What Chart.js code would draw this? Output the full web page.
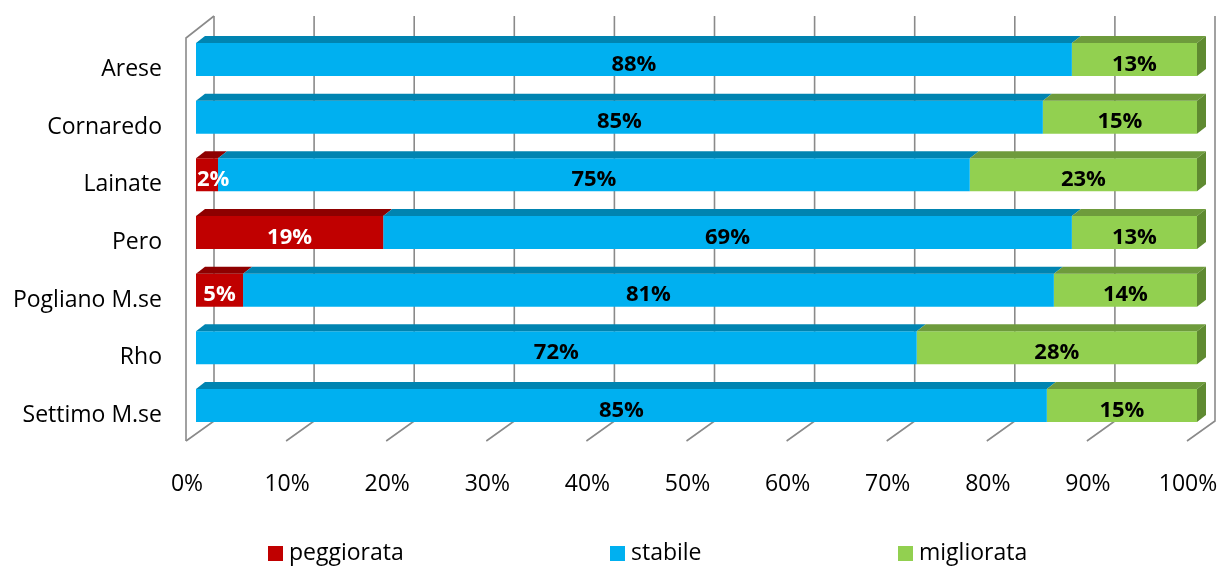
<!DOCTYPE html>
<html><head><meta charset="utf-8">
<script src="https://cdn.jsdelivr.net/npm/chart.js@4.4.0/dist/chart.umd.min.js"></script>
<style>html,body{margin:0;padding:0;background:#fff;} canvas{display:block}</style>
</head><body>
<canvas id="c" width="1227" height="567"></canvas>
<script>
// ---- data ----
const categories = ['Arese', 'Cornaredo', 'Lainate', 'Pero', 'Pogliano M.se', 'Rho', 'Settimo M.se'];
const seriesNames = ['peggiorata', 'stabile', 'migliorata'];
const peggiorata = [0, 0, 2.2, 18.7, 4.7, 0, 0];
const stabile = [87.5, 84.6, 75.1, 68.8, 81.0, 72.0, 85.0];
const migliorata = [12.5, 15.4, 22.7, 12.5, 14.3, 28.0, 15.0];
const xTicks = [0, 10, 20, 30, 40, 50, 60, 70, 80, 90, 100];

// ---- styles ----
const FRONT = ['#C00000', '#00B0F0', '#92D050'];
const TOP = ['#8E0000', '#0084B1', '#6E9B3C'];
const SIDE = ['#7A0000', '#00729A', '#5F8A31'];
const LABEL_COLOR = ['#FFFFFF', '#000000', '#000000'];
const FONT = 'Open Sans';
const DEPTH_X = 9, DEPTH_Y = 7;

const threeD = {
  id: 'threeD',
  beforeDatasetsDraw(chart) {
    const ctx = chart.ctx;
    const {top, bottom} = chart.chartArea;
    const xs = chart.scales.x;
    const BX = 18, FX = -10;
    const backTop = top - 14.7, backBot = bottom - 13.3, frontBot = bottom + 6.7, frontTop = top + 7.3;
    ctx.save();
    ctx.strokeStyle = '#8A8A8A';
    ctx.lineWidth = 1.6;
    xTicks.forEach(v => {
      const px = xs.getPixelForValue(v);
      ctx.beginPath();
      ctx.moveTo(px + BX, backTop);
      ctx.lineTo(px + BX, backBot);
      ctx.lineTo(px + FX, frontBot);
      ctx.stroke();
    });
    const x0 = xs.getPixelForValue(0);
    ctx.beginPath();
    ctx.moveTo(x0 + BX, backTop);
    ctx.lineTo(x0 + FX, frontTop);
    ctx.lineTo(x0 + FX, frontBot);
    ctx.stroke();
    ctx.restore();
  },
  afterDatasetsDraw(chart) {
    const ctx = chart.ctx;
    ctx.save();
    const n = chart.data.datasets.length;
    chart.data.datasets.forEach((ds, di) => {
      const meta = chart.getDatasetMeta(di);
      meta.data.forEach((el, i) => {
        if (!ds.data[i]) return;
        const x1 = Math.min(el.base, el.x), x2 = Math.max(el.base, el.x);
        const t = el.y - el.height / 2, b = el.y + el.height / 2;
        ctx.fillStyle = TOP[di];
        ctx.beginPath();
        ctx.moveTo(x1, t);
        ctx.lineTo(x1 + DEPTH_X, t - DEPTH_Y);
        ctx.lineTo(x2 + DEPTH_X, t - DEPTH_Y);
        ctx.lineTo(x2, t);
        ctx.closePath();
        ctx.fill();
        let last = true;
        for (let k = di + 1; k < n; k++) if (chart.data.datasets[k].data[i]) last = false;
        if (last) {
          ctx.fillStyle = SIDE[di];
          ctx.beginPath();
          ctx.moveTo(x2, t);
          ctx.lineTo(x2 + DEPTH_X, t - DEPTH_Y);
          ctx.lineTo(x2 + DEPTH_X, b - DEPTH_Y);
          ctx.lineTo(x2, b);
          ctx.closePath();
          ctx.fill();
        }
      });
    });
    ctx.font = 'bold 22px "' + FONT + '"';
    ctx.textAlign = 'center';
    ctx.textBaseline = 'middle';
    chart.data.datasets.forEach((ds, di) => {
      const meta = chart.getDatasetMeta(di);
      meta.data.forEach((el, i) => {
        if (!ds.data[i]) return;
        const txt = Math.round(ds.data[i]) + '%';
        const w = ctx.measureText(txt).width;
        const x = Math.max((el.x + el.base) / 2, Math.min(el.x, el.base) + w / 2 + 1);
        ctx.fillStyle = LABEL_COLOR[di];
        ctx.fillText(txt, x, el.y + 5);
      });
    });
    ctx.restore();
  },
  afterDraw(chart) {
    const ctx = chart.ctx;
    const LEG_X = [268, 610, 898];
    const cy = 553;
    ctx.save();
    ctx.font = '23px "' + FONT + '"';
    ctx.textAlign = 'left';
    ctx.textBaseline = 'middle';
    chart.data.datasets.forEach((ds, di) => {
      const x = LEG_X[di];
      ctx.fillStyle = ds.backgroundColor;
      ctx.fillRect(x, cy - 7, 15, 15);
      ctx.fillStyle = '#000';
      ctx.fillText(ds.label, x + 21, cy);
    });
    ctx.restore();
  }
};

new Chart(document.getElementById('c'), {
  type: 'bar',
  data: {
    labels: categories,
    datasets: [
      {label: seriesNames[0], data: peggiorata, backgroundColor: FRONT[0]},
      {label: seriesNames[1], data: stabile, backgroundColor: FRONT[1]},
      {label: seriesNames[2], data: migliorata, backgroundColor: FRONT[2]}
    ]
  },
  options: {
    responsive: false,
    animation: false,
    indexAxis: 'y',
    devicePixelRatio: 1,
    layout: {padding: {top: 30.7, right: 30, bottom: 52.7, left: 0}},
    datasets: {bar: {categoryPercentage: 1, barPercentage: 0.572, borderWidth: 0}},
    plugins: {legend: {display: false}, tooltip: {enabled: false}},
    scales: {
      x: {
        stacked: true, min: 0, max: 100,
        grid: {display: false, drawTicks: false},
        border: {display: false},
        afterBuildTicks: s => { s.ticks = xTicks.map(v => ({value: v})); },
        afterFit: s => { s.height = 80; s.paddingLeft = 0; s.paddingRight = 0; },
        ticks: {
          autoSkip: false, maxRotation: 0, color: '#000',
          font: {family: FONT, size: 23},
          padding: 36.6, labelOffset: -9,
          callback: v => v + '%'
        }
      },
      y: {
        stacked: true,
        grid: {display: false, drawTicks: false},
        border: {display: false},
        afterFit: s => { s.width = 196; s.paddingTop = 0; s.paddingBottom = 0; },
        ticks: {
          color: '#000', font: {family: FONT, size: 23},
          padding: 34, labelOffset: 10
        }
      }
    }
  },
  plugins: [threeD]
});
</script>
</body></html>
